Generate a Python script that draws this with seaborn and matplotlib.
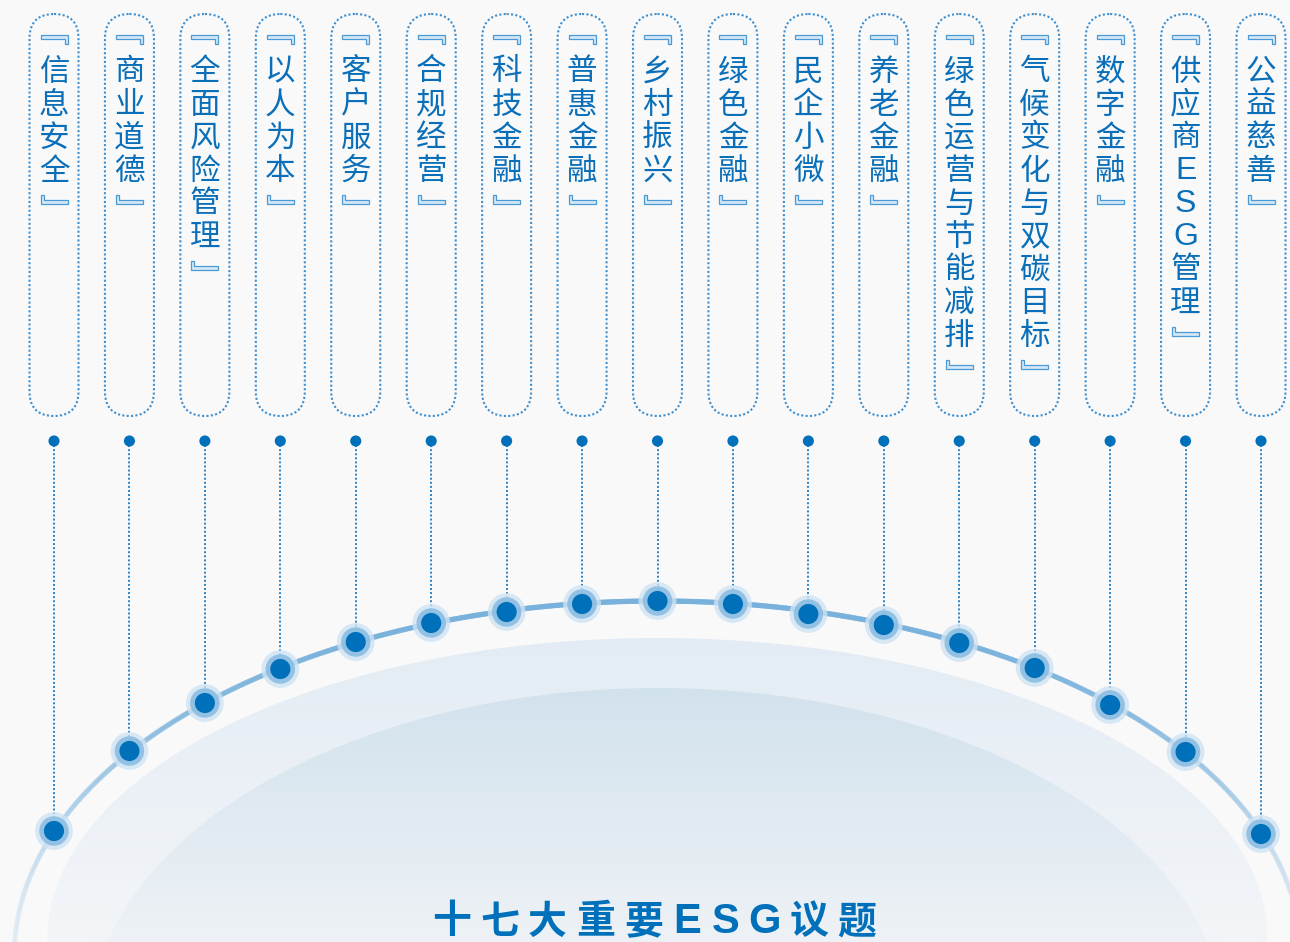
import numpy as np
import pandas as pd
import matplotlib.pyplot as plt
import seaborn as sns
from matplotlib.patches import Ellipse, FancyBboxPatch, Polygon
from matplotlib.collections import LineCollection
from matplotlib.colors import LinearSegmentedColormap, to_rgb

# -----------------------------
# Data
# -----------------------------
topics = ['信息安全', '商业道德', '全面风险管理', '以人为本', '客户服务', '合规经营',
          '科技金融', '普惠金融', '乡村振兴', '绿色金融', '民企小微', '养老金融',
          '绿色运营与节能减排', '气候变化与双碳目标', '数字金融', '供应商ESG管理', '公益慈善']
# height of each topic node on the arc (pixels from top)
dot_y = [831, 751, 703, 669, 642, 623, 612, 604, 601, 604, 614, 625, 643, 668, 705, 752, 834]
title = '十七大重要ESG议题'

# -----------------------------
# Style
# -----------------------------
sns.set_theme(style='white')
plt.rcParams['font.family'] = ['Noto Sans CJK SC', 'DejaVu Sans']

W, H = 1290, 942
bg = '#f9f9fa'
blue = '#0070ba'
txt_blue = '#0a6fb8'
light_blue = '#3d8fd0'

n = len(topics)
step = (1261 - 54) / (n - 1)   # pixels per column
px = 1 / step                  # one pixel in x units

fig = plt.figure(figsize=(W / 100, H / 100), dpi=100)
ax = fig.add_axes([0, 0, 1, 1])
fig.patch.set_facecolor(bg)
ax.set_facecolor(bg)

df = pd.DataFrame({'topic': topics, 'pos': np.arange(n), 'y': dot_y})
mid = (n - 1) / 2


# -----------------------------
# Background domes (vertical gradient)
# -----------------------------
def dome(cy, a, b, top_col, bot_col):
    e = Ellipse((mid, cy), 2 * a * px, 2 * b, facecolor='none', edgecolor='none')
    ax.add_patch(e)
    cmap = LinearSegmentedColormap.from_list('g', [top_col, bot_col])
    grad = np.linspace(0, 1, 256).reshape(-1, 1)
    im = ax.imshow(grad, extent=(mid - a * px, mid + a * px, H, cy - b),
                   cmap=cmap, aspect='auto', origin='upper', zorder=0.5)
    im.set_clip_path(e)


dome(938, 610, 300, '#e3ecf4', '#f3f5f8')
dome(1029, 569, 341, '#d2e2ed', '#eef2f6')

# -----------------------------
# Arc
# -----------------------------
t = np.linspace(0, np.pi, 600)
ax_x = mid + 643 * px * np.cos(t)
ax_y = 954 - 353 * np.sin(t)
pts = np.column_stack([ax_x, ax_y]).reshape(-1, 1, 2)
segs = np.concatenate([pts[:-1], pts[1:]], axis=1)
fade = np.abs(np.cos((t[:-1] + t[1:]) / 2))
alphas = 0.95 - 0.9 * fade ** 2.2
base = to_rgb('#78b1db')
cols = [(*base, max(al, 0.05)) for al in alphas]
ax.add_collection(LineCollection(segs, colors=cols, linewidths=3.8, zorder=2,
                                 capstyle='round'))

# -----------------------------
# Connectors
# -----------------------------
for i, y in zip(df['pos'], df['y']):
    ax.plot([i, i], [441, y], color='#2b82c6', lw=1.4, ls=(0, (1, 1.1)), zorder=1.5)

# -----------------------------
# Nodes
# -----------------------------
sns.scatterplot(data=df, x='pos', y='y', s=740, color='#cfe3f3', alpha=0.8,
                edgecolor='none', ax=ax, zorder=3, legend=False)
sns.scatterplot(data=df, x='pos', y='y', s=450, color='#86bbe2', alpha=0.85,
                edgecolor='none', ax=ax, zorder=3.1, legend=False)
sns.scatterplot(data=df, x='pos', y='y', s=210, color=blue,
                edgecolor='none', ax=ax, zorder=3.2, legend=False)
sns.scatterplot(x=df['pos'], y=[441] * n, s=64, color=blue,
                edgecolor='none', ax=ax, zorder=3.2, legend=False)

# -----------------------------
# Topic pills
# -----------------------------
# hollow corner brackets (vertical writing form), offsets in pixels
top_br = [(-13.5, 0), (13.5, 0), (13.5, 9), (10.5, 9), (10.5, 4), (-13.5, 4)]
bot_br = [(-13.5, 0), (13.5, 0), (13.5, -4), (-10.5, -4), (-10.5, -9), (-13.5, -9)]


def bracket(xc, y0, shape):
    verts = [(xc + dx * px, y0 + dy) for dx, dy in shape]
    ax.add_patch(Polygon(verts, closed=True, facecolor='#d5e7f5',
                         edgecolor='#4a9ad6', lw=0.9, zorder=4))


for i, name in enumerate(topics):
    pill = FancyBboxPatch((i - 24.5 * px, 14), 49 * px, 402,
                          boxstyle=f'round,pad=0,rounding_size={24.5 * px}',
                          mutation_aspect=step, facecolor='none',
                          edgecolor=light_blue, lw=1.5, ls=(0, (1, 1.1)), zorder=2)
    ax.add_patch(pill)
    bracket(i, 35, top_br)
    for k, ch in enumerate(name):
        if ch.isascii():
            ax.text(i, 72 + 33 * k, ch, ha='center', va='center', fontsize=23,
                    family='Liberation Sans', color=txt_blue, zorder=4)
        else:
            ax.text(i, 72 + 33 * k, ch, ha='center', va='center', fontsize=22,
                    color=txt_blue, zorder=4)
    bracket(i, 72 + 33 * len(name), bot_br)

# -----------------------------
# Title (letter-spaced)
# -----------------------------
widths = [27 if ch.isascii() else 36 for ch in title]
gap = 12
centers = [0.0]
for w0, w1 in zip(widths[:-1], widths[1:]):
    centers.append(centers[-1] + w0 / 2 + gap + w1 / 2)
centers = np.array(centers) - (centers[0] + centers[-1]) / 2
tx = (654 - 54) * px
for c, ch in zip(centers, title):
    fam = 'Liberation Sans' if ch.isascii() else ['Noto Sans CJK SC', 'DejaVu Sans']
    ax.text(tx + c * px, 922, ch, ha='center', va='center',
            fontsize=30 if ch.isascii() else 28, family=fam,
            fontweight='bold', color=blue, zorder=4)

ax.set_xlim(-54 * px, n - 1 + 29 * px)
ax.set_ylim(H, 0)
ax.axis('off')

plt.savefig('out.png', dpi=100, facecolor=bg)
plt.close()
